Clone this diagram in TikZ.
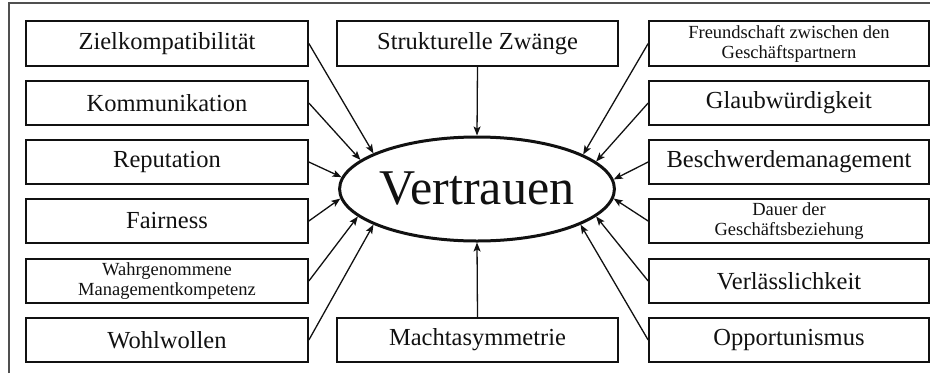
\documentclass[tikz,border=0pt]{standalone}
\usepackage{fontspec}
\setmainfont{Liberation Serif}
\usetikzlibrary{arrows.meta,shapes.geometric}
\definecolor{ink}{HTML}{111111}
\definecolor{framegray}{HTML}{505050}
\tikzset{
  factor/.style={draw=ink, line width=1.7pt, rectangle, inner sep=0pt,
                 minimum height=44.5pt, align=center, text=ink},
  bigtxt/.style={font=\fontsize{24.5}{26}\selectfont},
  smalltxt/.style={font=\fontsize{18.5}{20}\selectfont},
  center/.style={draw=ink, line width=3pt, ellipse, inner sep=0pt,
                 minimum width=236pt, minimum height=104pt, text=ink,
                 font=\fontsize{50}{52}\selectfont},
  influence/.style={draw=ink, line width=1.3pt,
                    -{Stealth[length=9pt,width=7pt,inset=2pt]}}
}
\begin{document}
\begin{tikzpicture}[x=1pt,y=-1pt]
  \useasboundingbox (0,0) rectangle (930,373);
  % outer frame (top and left edges)
  \draw[framegray, line width=2pt] (9,373) -- (9,3) -- (930,3);

  % central concept
  \node[center] (v) at (477,189) {Vertrauen};

  % left column
  \node[factor, bigtxt, minimum width=282pt] (l1) at (167,43.5) {Zielkompatibilität};
  \node[factor, bigtxt, minimum width=282pt] (l2) at (167,103) {Kommunikation};
  \node[factor, bigtxt, minimum width=282pt] (l3) at (167,162) {Reputation};
  \node[factor, bigtxt, minimum width=282pt] (l4) at (167,221) {Fairness};
  \node[factor, smalltxt, minimum width=282pt] (l5) at (167,281) {Wahrgenommene\\Managementkompetenz};
  \node[factor, bigtxt, minimum width=282pt] (l6) at (167,340) {Wohlwollen};

  % middle column
  \node[factor, bigtxt, minimum width=281pt] (m1) at (477.5,43.5) {Strukturelle Zwänge};
  \node[factor, bigtxt, minimum width=281pt] (m2) at (477.5,340) {Machtasymmetrie};

  % right column
  \node[factor, smalltxt, minimum width=280pt] (r1) at (789,43.5) {Freundschaft zwischen den\\Geschäftspartnern};
  \node[factor, bigtxt, minimum width=280pt] (r2) at (789,103) {Glaubwürdigkeit};
  \node[factor, bigtxt, minimum width=280pt] (r3) at (789,162) {Beschwerdemanagement};
  \node[factor, smalltxt, minimum width=280pt] (r4) at (789,221) {Dauer der\\Geschäftsbeziehung};
  \node[factor, bigtxt, minimum width=280pt] (r5) at (789,281) {Verlässlichkeit};
  \node[factor, bigtxt, minimum width=280pt] (r6) at (789,340) {Opportunismus};

  % influences on trust
  \draw[influence] (l1.east) -- (v.161.7);
  \draw[influence] (l2.east) -- (v.166.3);
  \draw[influence] (l3.east) -- (v.175.6);
  \draw[influence] (l4.east) -- (v.184.4);
  \draw[influence] (l5.east) -- (v.193.7);
  \draw[influence] (l6.east) -- (v.199.7);

  \draw[influence] (r1.west) -- (v.18.3);
  \draw[influence] (r2.west) -- (v.13.7);
  \draw[influence] (r3.west) -- (v.4.4);
  \draw[influence] (r4.west) -- (v.-4.4);
  \draw[influence] (r5.west) -- (v.-13.7);
  \draw[influence] (r6.west) -- (v.-19.7);

  \draw[influence] (m1.south) -- (v.north);
  \draw[influence] (m2.north) -- (v.south);
\end{tikzpicture}
\end{document}
